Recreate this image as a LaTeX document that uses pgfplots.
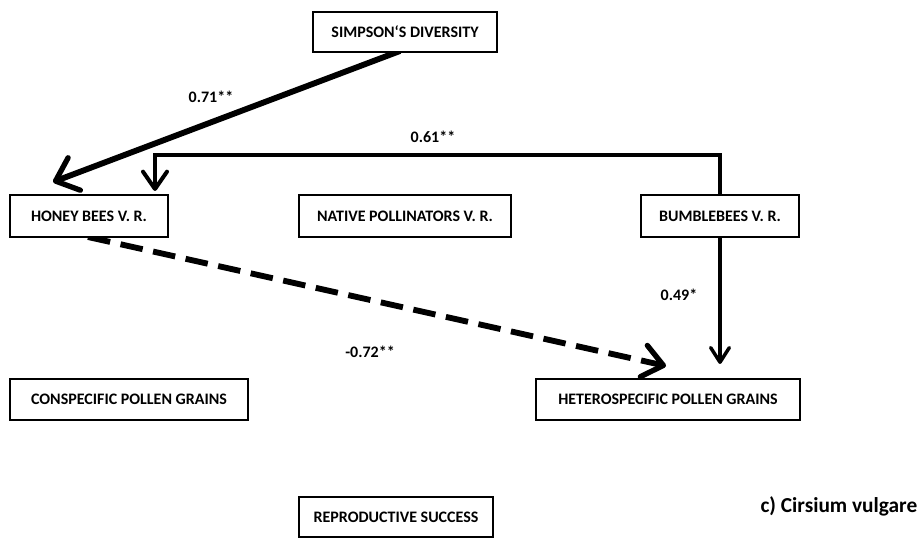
\documentclass[border=0pt]{standalone}
\usepackage{fontspec}
\setmainfont{Carlito}
\usepackage{pgfplots}
\pgfplotsset{compat=1.18}
\usetikzlibrary{arrows.meta}
\begin{document}
\begin{tikzpicture}[
    box/.style={draw, line width=1.5pt, fill=white, inner sep=0pt,
        font=\fontsize{12}{14}\selectfont\bfseries},
    lab/.style={font=\fontsize{12}{14}\selectfont\bfseries},
]
\begin{axis}[
    width=693pt, height=405.75pt,
    scale only axis,
    xmin=0, xmax=924, ymin=0, ymax=541,
    y dir=reverse,
    hide axis,
    clip=false,
]
% keep the whole frame in the bounding box
\addplot[draw=none] coordinates {(0,0) (924,541)};
% paths (pixel coordinates of the figure)
\addplot[line width=4.4pt, -{Straight Barb[round, length=15pt, width=26pt, line width=4pt]}] coordinates {(400,51) (53,182)};
\addplot[line width=3.2pt, line join=miter, -{Straight Barb[round, length=13pt, width=18pt, line width=3pt]}] coordinates {(720,196) (720,155) (155,155) (155,191)};
\addplot[line width=2.6pt, -{Straight Barb[round, length=11pt, width=14pt, line width=2.6pt]}] coordinates {(720,237) (720,364)};
\addplot[line width=4.4pt, dash pattern=on 17pt off 8pt, -{Straight Barb[round, length=15pt, width=24pt, line width=4pt]}] coordinates {(88,237) (666,366)};
% boxes
\node[box, minimum width=138pt, minimum height=30pt] at (axis cs:405,32) {SIMPSON‘S DIVERSITY};
\node[box, minimum width=118.5pt, minimum height=31.5pt] at (axis cs:89,216) {HONEY BEES V. R.};
\node[box, minimum width=159pt, minimum height=31.5pt] at (axis cs:405,216) {NATIVE POLLINATORS V. R.};
\node[box, minimum width=118.5pt, minimum height=31.5pt] at (axis cs:720,216) {BUMBLEBEES V. R.};
\node[box, minimum width=178.5pt, minimum height=30.75pt] at (axis cs:129,399.5) {CONSPECIFIC POLLEN GRAINS};
\node[box, minimum width=198pt, minimum height=30.75pt] at (axis cs:668,399.5) {HETEROSPECIFIC POLLEN GRAINS};
\node[box, minimum width=145.5pt, minimum height=30pt] at (axis cs:396,517) {REPRODUCTIVE SUCCESS};
% coefficients
\node[lab] at (axis cs:211,97) {0.71**};
\node[lab] at (axis cs:433,137) {0.61**};
\node[lab] at (axis cs:679,295) {0.49*};
\node[lab] at (axis cs:370,352) {-0.72**};
\node[font=\fontsize{16}{19}\selectfont\bfseries, anchor=east] at (axis cs:922,506) {c) Cirsium vulgare};
\end{axis}
\end{tikzpicture}
\end{document}
